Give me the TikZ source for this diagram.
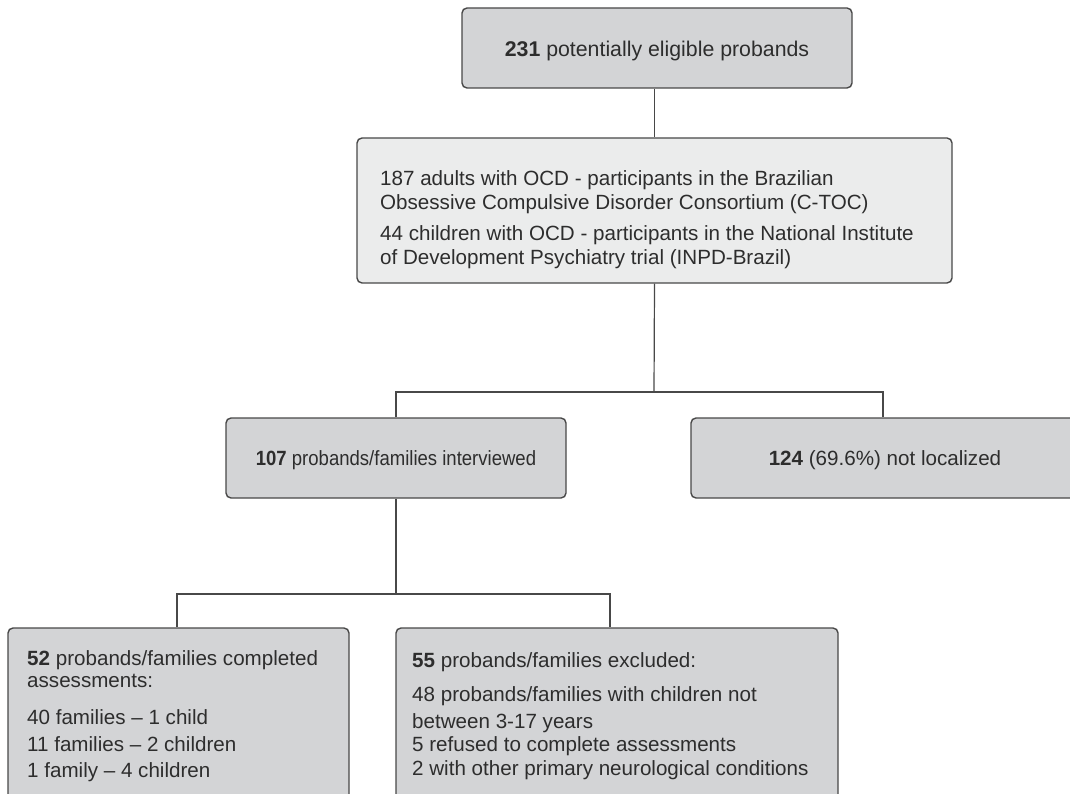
\documentclass[tikz,border=0pt]{standalone}
\usepackage{fontspec}
\setmainfont{Liberation Sans}
\usetikzlibrary{calc}
\definecolor{boxdark}{RGB}{211,212,214}
\definecolor{boxlight}{RGB}{235,236,236}
\definecolor{edge}{RGB}{72,72,72}
\definecolor{ink}{RGB}{45,45,45}
\begin{document}
\begin{tikzpicture}[x=1pt,y=-1pt,
  box/.style={draw=edge, line width=1.4pt, rounded corners=5pt, inner sep=0pt, text=ink, font=\fontsize{20.6}{26}\selectfont},
  darkbox/.style={box, fill=boxdark},
  lightbox/.style={box, fill=boxlight},
  txt/.style={anchor=base west, inner sep=0pt, text=ink, font=\fontsize{20.6}{26}\selectfont},
  link/.style={draw=edge, line width=1.2pt}]

\useasboundingbox (0,0) rectangle (1070,794);
\clip (0,0) rectangle (1070,794);

% boxes
\node[darkbox, minimum width=390pt, minimum height=80pt] (top) at (657,48) {};
\node[anchor=center, inner sep=0pt, text=ink, font=\fontsize{21.3}{26}\selectfont] (toptxt) at (657,51) {\textbf{231} potentially eligible probands};

\node[lightbox, minimum width=595pt, minimum height=145pt] (mid) at (654.5,210.5) {};
\node[txt] (m1) at (380,186) {187 adults with OCD - participants in the Brazilian};
\node[txt] (m2) at (380,210) {Obsessive Compulsive Disorder Consortium (C-TOC)};
\node[txt] (m3) at (380,241) {44 children with OCD - participants in the National Institute};
\node[txt] (m4) at (380,265) {of Development Psychiatry trial (INPD-Brazil)};

\node[darkbox, minimum width=340pt, minimum height=80pt] (b107) at (396,458) {};
\node[anchor=center, inner sep=0pt, text=ink, font=\fontsize{20.6}{26}\selectfont] (t107) at (396,460) {\scalebox{0.9}[1]{\textbf{107} probands/families interviewed}};
\node[darkbox, minimum width=388pt, minimum height=80pt] (b124) at (885,458) {};
\node[anchor=center, inner sep=0pt, text=ink, font=\fontsize{20.6}{26}\selectfont] (t124) at (885,460) {\textbf{124} (69.6\%) not localized};

\node[darkbox, minimum width=341pt, minimum height=192pt] (b52) at (178.5,724) {};
\node[txt] (c1) at (27,665) {\textbf{52} probands/families completed};
\node[txt] (c2) at (27,687) {assessments:};
\node[txt] (c3) at (27,724) {40 families \textendash{} 1 child};
\node[txt] (c4) at (27,751) {11 families \textendash{} 2 children};
\node[txt] (c5) at (27,777) {1 family \textendash{} 4 children};

\node[darkbox, minimum width=442pt, minimum height=192pt] (b55) at (617,724) {};
\node[txt] (e1) at (412,667) {\textbf{55} probands/families excluded:};
\node[txt] (e2) at (412,701) {48 probands/families with children not};
\node[txt] (e3) at (412,728) {between 3-17 years};
\node[txt] (e4) at (412,751.5) {5 refused to complete assessments};
\node[txt] (e5) at (412,775) {2 with other primary neurological conditions};

% connectors
\coordinate (j1) at (654,392);
\coordinate (j2) at (396,594);
\draw[link] (top.south -| mid.north) -- (mid.north);
\draw[link] (mid.south) -- (j1);
\draw[link] (b107.north) |- (j1) -| ([xshift=-2pt]b124.north);
\draw[link] (b107.south) -- (j2);
\draw[link] ([xshift=-1.5pt]b52.north) |- (j2) -| ([xshift=-7pt]b55.north);
\end{tikzpicture}
\end{document}
